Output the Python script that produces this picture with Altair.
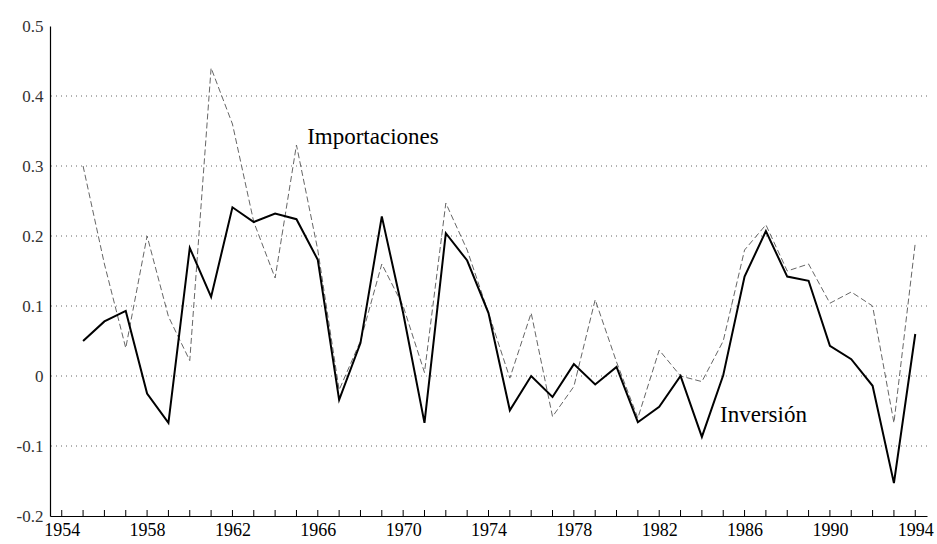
import altair as alt
import pandas as pd

years = list(range(1955, 1995))
inversion = [0.050, 0.078, 0.093, -0.025, -0.067, 0.183, 0.113, 0.241, 0.220, 0.232,
             0.224, 0.166, -0.034, 0.047, 0.228, 0.090, -0.067, 0.204, 0.165, 0.090,
             -0.049, 0.000, -0.030, 0.017, -0.012, 0.013, -0.066, -0.044, 0.000, -0.087,
             0.001, 0.142, 0.207, 0.142, 0.136, 0.043, 0.024, -0.014, -0.153, 0.060]
importaciones = [0.300, 0.160, 0.040, 0.200, 0.085, 0.022, 0.440, 0.360, 0.220, 0.140,
                 0.330, 0.180, -0.020, 0.050, 0.160, 0.100, 0.005, 0.247, 0.180, 0.090,
                 -0.003, 0.090, -0.058, -0.015, 0.109, 0.020, -0.060, 0.037, 0.000, -0.008,
                 0.050, 0.180, 0.216, 0.150, 0.160, 0.104, 0.120, 0.100, -0.067, 0.190]
tick_years = list(range(1954, 1995))
label_years = list(range(1954, 1995, 4))
y_ticks = [-0.2, -0.1, 0.0, 0.1, 0.2, 0.3, 0.4, 0.5]
grid_vals = [-0.1, 0.0, 0.1, 0.2, 0.3, 0.4]
annot_text = ["Importaciones", "Inversión"]
annot_x = [1965.5, 1984.85]
annot_y = [0.341, -0.056]

FONT = "Liberation Serif"

df_inv = pd.DataFrame({"year": years, "value": inversion})
df_imp = pd.DataFrame({"year": years, "value": importaciones})
df_ticks = pd.DataFrame({"year": tick_years})
df_grid = pd.DataFrame({"v": grid_vals})
df_annot = pd.DataFrame({"year": annot_x, "value": annot_y, "text": annot_text})

xscale = alt.Scale(domain=[1953.45, 1994.55], nice=False, zero=False)
yscale = alt.Scale(domain=[-0.2, 0.5], nice=False, zero=False)

xaxis = alt.Axis(values=label_years, format="d", ticks=False, grid=False,
                 domainColor="black", domainWidth=1.2, labelFont=FONT, labelFontSize=18,
                 labelColor="black", labelPadding=5, title=None)
yaxis = alt.Axis(values=y_ticks, ticks=False, grid=False, domainColor="black",
                 domainWidth=1.2, labelFont=FONT, labelFontSize=17, labelColor="#333",
                 labelPadding=7, title=None,
                 labelExpr="datum.value == 0 ? '0' : toString(round(datum.value*10)/10)")

grid = alt.Chart(df_grid).mark_rule(color="#666", strokeWidth=1, strokeDash=[1, 4]).encode(
    y=alt.Y("v:Q", scale=yscale, axis=yaxis)
)

ticks = alt.Chart(df_ticks).mark_rule(color="black", strokeWidth=1).encode(
    x=alt.X("year:Q", scale=xscale, axis=xaxis),
    y=alt.value(484), y2=alt.value(490)
)

imp_line = alt.Chart(df_imp).mark_line(color="#666", strokeWidth=1, strokeDash=[6, 3]).encode(
    x=alt.X("year:Q", scale=xscale, axis=xaxis),
    y=alt.Y("value:Q", scale=yscale, axis=yaxis)
)

inv_line = alt.Chart(df_inv).mark_line(color="black", strokeWidth=2).encode(
    x=alt.X("year:Q", scale=xscale, axis=xaxis),
    y=alt.Y("value:Q", scale=yscale, axis=yaxis)
)

annot = alt.Chart(df_annot).mark_text(font=FONT, fontSize=23, align="left",
                                       baseline="middle", color="black").encode(
    x=alt.X("year:Q", scale=xscale, axis=xaxis),
    y=alt.Y("value:Q", scale=yscale, axis=yaxis),
    text="text:N"
)

chart = alt.layer(grid, ticks, imp_line, inv_line, annot).properties(
    width=877, height=490,
    padding={"left": 50, "top": 26, "right": 10, "bottom": 28},
    autosize=alt.AutoSizeParams(type="none"),
    background="white"
).configure_view(stroke=None)

chart.save("out.html", embed_options={"renderer": "svg", "actions": False})
